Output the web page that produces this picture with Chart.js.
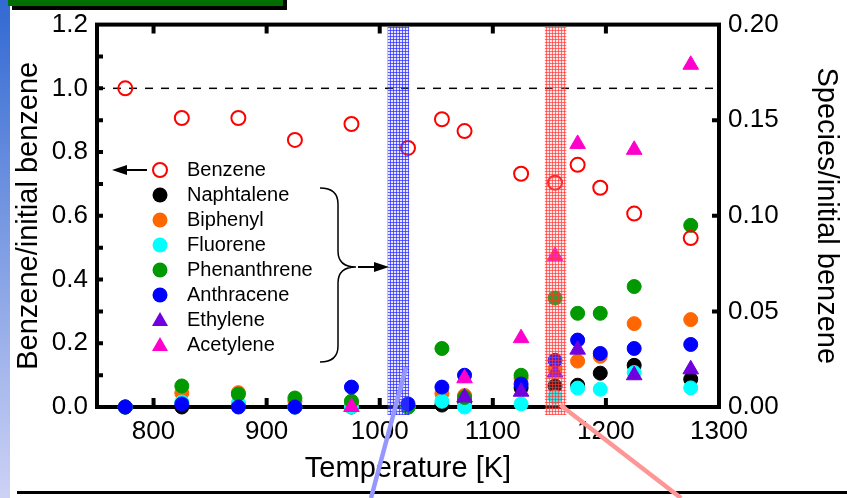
<!DOCTYPE html>
<html>
<head>
<meta charset="utf-8">
<script src="https://cdn.jsdelivr.net/npm/chart.js@4.4.0/dist/chart.umd.min.js"></script>
<style>
  html, body { margin: 0; padding: 0; background: #fff; }
  canvas { display: block; }
</style>
</head>
<body>
<canvas id="chart" width="847" height="498"></canvas>
<script>
// ---- data ----
const temps = [775, 825, 875, 925, 975, 1025, 1055, 1075, 1125, 1155, 1175, 1195, 1225, 1275];

// left axis (benzene / initial benzene)
const benzene = [1.00, 0.907, 0.907, 0.838, 0.888, 0.813, 0.903, 0.866, 0.732, 0.704, 0.760, 0.688, 0.607, 0.530];

// right axis (species / initial benzene)
const naphtalene   = [0.000, 0.000, 0.001, 0.000, 0.000, 0.000, 0.001, 0.003, 0.010, 0.011, 0.0114, 0.0177, 0.0218, 0.0145];
const biphenyl     = [0.000, 0.0073, 0.0075, 0.003, 0.002, 0.000, 0.007, 0.006, 0.015, 0.020, 0.024, 0.0265, 0.0436, 0.0457];
const fluorene     = [0.000, 0.0026, 0.002, 0.000, 0.000, 0.000, 0.003, 0.000, 0.0016, 0.0052, 0.0099, 0.0093, 0.018, 0.010];
const phenanthrene = [0.000, 0.011, 0.0067, 0.0047, 0.003, 0.000, 0.0306, 0.005, 0.0166, 0.057, 0.049, 0.049, 0.063, 0.095];
const anthracene   = [0.000, 0.0016, 0.000, 0.000, 0.0104, 0.0016, 0.0104, 0.0166, 0.012, 0.0244, 0.035, 0.028, 0.0306, 0.0327];
const ethylene     = [null, null, null, null, null, null, null, 0.005, 0.008, 0.018, 0.030, null, 0.0166, 0.0197];
const acetylene    = [null, null, null, null, 0.000, null, null, 0.015, 0.036, 0.079, 0.1376, null, 0.1345, 0.179];

const xTicks = [800, 900, 1000, 1100, 1200, 1300];
const leftTicks = [0, 0.1, 0.2, 0.3, 0.4, 0.5, 0.6, 0.7, 0.8, 0.9, 1.0, 1.1, 1.2];
const rightTicks = [0, 0.05, 0.10, 0.15, 0.20];
const refLevel = [1.0];
const blueBand = [1007, 1026];
const redBand = [1146, 1165];

const FONT = "'Liberation Sans', Arial, sans-serif";

function pts(vals) {
  return temps.map((t, i) => vals[i] == null ? null : { x: t, y: vals[i] }).filter(p => p);
}

function species(label, vals, color, style, order) {
  return {
    label: label,
    data: pts(vals),
    yAxisID: 'y2',
    pointStyle: style,
    pointRadius: style === 'triangle' ? 9 : 7,
    borderWidth: 1,
    borderColor: color,
    backgroundColor: color,
    showLine: false,
    clip: false,
    order: order
  };
}

const datasets = [
  {
    label: 'ref',
    type: 'line',
    data: [{ x: 750, y: refLevel[0] }, { x: 1300, y: refLevel[0] }],
    yAxisID: 'y',
    borderColor: '#000',
    borderWidth: 1.5,
    borderDash: [8, 8],
    pointRadius: 0,
    order: 20
  },
  {
    label: 'Benzene',
    data: pts(benzene),
    yAxisID: 'y',
    pointStyle: 'circle',
    pointRadius: 7,
    borderWidth: 2,
    borderColor: '#ff0000',
    backgroundColor: 'rgba(255,255,255,0)',
    showLine: false,
    clip: false,
    order: 1
  },
  species('Naphtalene', naphtalene, '#000000', 'circle', 9),
  species('Biphenyl', biphenyl, '#ff6600', 'circle', 8),
  species('Fluorene', fluorene, '#00ffff', 'circle', 7),
  species('Phenanthrene', phenanthrene, '#009900', 'circle', 6),
  species('Anthracene', anthracene, '#0000ff', 'circle', 5),
  species('Ethylene', ethylene, '#7000dd', 'triangle', 4),
  species('Acetylene', acetylene, '#ff00cc', 'triangle', 3)
];

function bandPattern(ctx, strong, weak) {
  const c = document.createElement('canvas');
  c.width = 3; c.height = 3;
  const g = c.getContext('2d');
  g.fillStyle = weak; g.fillRect(0, 0, 3, 3);
  g.fillStyle = strong; g.fillRect(0, 0, 3, 1); g.fillRect(0, 0, 1, 3);
  return ctx.createPattern(c, 'repeat');
}

// page background, slide bits
const backdrop = {
  id: 'backdrop',
  beforeDraw(chart) {
    const ctx = chart.ctx;
    ctx.save();
    ctx.fillStyle = '#fff';
    ctx.fillRect(0, 0, chart.width, chart.height);
    const gr = ctx.createLinearGradient(0, 0, 0, chart.height);
    gr.addColorStop(0, 'rgb(50,105,210)');
    gr.addColorStop(1, 'rgb(205,210,245)');
    ctx.fillStyle = gr;
    ctx.fillRect(0, 0, 10, chart.height);
    ctx.fillStyle = '#000';
    ctx.fillRect(12, 0, 275, 10);
    ctx.fillStyle = 'rgb(0,110,0)';
    ctx.fillRect(8, 0, 275, 6);
    ctx.fillStyle = '#000';
    ctx.fillRect(17, 491, chart.width - 17, 3);
    ctx.restore();
  }
};

// box and inward ticks
const frame = {
  id: 'frame',
  beforeDatasetsDraw(chart) {
    const { ctx, chartArea: a, scales } = chart;
    ctx.save();
    ctx.strokeStyle = '#000';
    ctx.lineWidth = 4;
    ctx.strokeRect(a.left, a.top, a.right - a.left, a.bottom - a.top);
    ctx.beginPath();
    scales.x.ticks.forEach(t => {
      const x = scales.x.getPixelForValue(t.value);
      if (x >= a.right - 1) return;
      ctx.moveTo(x, a.bottom); ctx.lineTo(x, a.bottom - 9);
      ctx.moveTo(x, a.top); ctx.lineTo(x, a.top + 9);
    });
    scales.y.ticks.forEach(t => {
      const y = scales.y.getPixelForValue(t.value);
      if (y <= a.top + 1 || y >= a.bottom - 1) return;
      ctx.moveTo(a.left, y); ctx.lineTo(a.left + 6, y);
    });
    scales.y2.ticks.forEach(t => {
      const y = scales.y2.getPixelForValue(t.value);
      if (y <= a.top + 1 || y >= a.bottom - 1) return;
      ctx.moveTo(a.right, y); ctx.lineTo(a.right - 7, y);
    });
    ctx.stroke();
    ctx.restore();
  }
};

// shaded bands, callout lines, legend with arrows and brace
const extras = {
  id: 'extras',
  afterDatasetsDraw(chart) {
    const { ctx, chartArea: a, scales } = chart;
    ctx.save();
    [[blueBand, bandPattern(ctx, 'rgba(40,40,255,0.7)', 'rgba(150,150,255,0.25)')],
     [redBand, bandPattern(ctx, 'rgba(255,50,50,0.65)', 'rgba(255,150,150,0.25)')]].forEach(([b, pat]) => {
      const x1 = scales.x.getPixelForValue(b[0]);
      const x2 = scales.x.getPixelForValue(b[1]);
      ctx.fillStyle = pat;
      ctx.fillRect(x1, a.top + 2, x2 - x1, a.bottom - a.top + 6);
    });
    ctx.restore();
  },
  afterDraw(chart) {
    const { ctx, chartArea: a, scales } = chart;
    ctx.save();
    // callout lines
    ctx.lineWidth = 4.5;
    ctx.strokeStyle = 'rgb(150,150,255)';
    const bx = scales.x.getPixelForValue(blueBand[1]);
    ctx.beginPath(); ctx.moveTo(bx - 3, a.bottom - 40); ctx.lineTo(371, chart.height); ctx.stroke();
    ctx.strokeStyle = 'rgb(255,150,150)';
    const rx = scales.x.getPixelForValue(redBand[1]);
    ctx.beginPath(); ctx.moveTo(rx - 6, a.bottom - 2); ctx.lineTo(681, chart.height); ctx.stroke();

    // legend
    const items = chart.data.datasets.filter(d => d.label !== 'ref');
    const mx = 160, tx = 187, y0 = 170, dy = 25;
    ctx.font = '20px ' + FONT;
    ctx.textBaseline = 'middle';
    ctx.textAlign = 'left';
    items.forEach((d, i) => {
      const y = y0 + i * dy;
      if (d.label === 'Benzene') {
        ctx.strokeStyle = d.borderColor; ctx.lineWidth = 2;
        ctx.beginPath(); ctx.arc(mx, y, 7, 0, Math.PI * 2); ctx.stroke();
      } else if (d.pointStyle === 'triangle') {
        ctx.fillStyle = d.backgroundColor;
        ctx.beginPath();
        ctx.moveTo(mx, y - 8); ctx.lineTo(mx + 8, y + 6); ctx.lineTo(mx - 8, y + 6);
        ctx.closePath(); ctx.fill();
      } else {
        ctx.fillStyle = d.backgroundColor;
        ctx.beginPath(); ctx.arc(mx, y, 7.5, 0, Math.PI * 2); ctx.fill();
      }
      ctx.fillStyle = '#000';
      ctx.fillText(d.label, tx, y);
    });

    ctx.strokeStyle = '#000';
    ctx.fillStyle = '#000';
    // arrow to left axis
    ctx.lineWidth = 2;
    ctx.beginPath(); ctx.moveTo(147, y0); ctx.lineTo(122, y0); ctx.stroke();
    ctx.beginPath(); ctx.moveTo(112, y0); ctx.lineTo(127, y0 - 5); ctx.lineTo(127, y0 + 5); ctx.closePath(); ctx.fill();

    // brace
    const bt = 188, bb = 362, bm = 267, bxL = 320, bxM = 338, bxT = 356;
    ctx.lineWidth = 1.5;
    ctx.beginPath();
    ctx.moveTo(bxL, bt);
    ctx.quadraticCurveTo(bxM, bt, bxM, bt + 16);
    ctx.lineTo(bxM, bm - 16);
    ctx.quadraticCurveTo(bxM, bm, bxT, bm);
    ctx.quadraticCurveTo(bxM, bm, bxM, bm + 16);
    ctx.lineTo(bxM, bb - 16);
    ctx.quadraticCurveTo(bxM, bb, bxL, bb);
    ctx.stroke();

    // arrow to right axis group
    ctx.lineWidth = 2;
    ctx.beginPath(); ctx.moveTo(358, bm); ctx.lineTo(378, bm); ctx.stroke();
    ctx.beginPath(); ctx.moveTo(389, bm); ctx.lineTo(374, bm - 5); ctx.lineTo(374, bm + 5); ctx.closePath(); ctx.fill();
    ctx.restore();
  }
};

new Chart(document.getElementById('chart').getContext('2d'), {
  type: 'scatter',
  data: { datasets: datasets },
  options: {
    responsive: false,
    animation: false,
    devicePixelRatio: 1,
    layout: { padding: { top: 22, left: 0, right: 0, bottom: 0 } },
    plugins: { legend: { display: false }, tooltip: { enabled: false } },
    scales: {
      x: {
        type: 'linear',
        position: 'bottom',
        min: 750,
        max: 1300,
        afterBuildTicks: s => { s.ticks = xTicks.map(v => ({ value: v })); },
        afterFit: s => { s.height = 91; },
        grid: { display: false, drawTicks: false },
        border: { display: false },
        ticks: { color: '#000', font: { family: FONT, size: 26 }, padding: 9, autoSkip: false, maxRotation: 0,
                 callback: v => String(v) },
        title: { display: true, text: 'Temperature [K]', color: '#000',
                 font: { family: FONT, size: 29 }, padding: { top: 0, bottom: 12 } }
      },
      y: {
        type: 'linear',
        position: 'left',
        min: 0,
        max: 1.2,
        afterBuildTicks: s => { s.ticks = leftTicks.map(v => ({ value: v })); },
        afterFit: s => { s.width = 97; },
        grid: { display: false, drawTicks: false },
        border: { display: false },
        ticks: { color: '#000', font: { family: FONT, size: 26 }, padding: 9, autoSkip: false,
                 callback: v => Math.round(v * 10) % 2 === 0 ? v.toFixed(1) : '' },
        title: { display: true, text: 'Benzene/initial benzene', color: '#000',
                 font: { family: FONT, size: 29 }, padding: { top: 12, bottom: 0 } }
      },
      y2: {
        type: 'linear',
        position: 'right',
        min: 0,
        max: 0.2,
        afterBuildTicks: s => { s.ticks = rightTicks.map(v => ({ value: v })); },
        afterFit: s => { s.width = 128; },
        grid: { display: false, drawTicks: false },
        border: { display: false },
        ticks: { color: '#000', font: { family: FONT, size: 26 }, padding: 9, autoSkip: false,
                 callback: v => v.toFixed(2) },
        title: { display: true, text: 'Species/initial benzene', color: '#000',
                 font: { family: FONT, size: 29 }, padding: { top: 4, bottom: 0 } }
      }
    }
  },
  plugins: [backdrop, frame, extras]
});
</script>
</body>
</html>
